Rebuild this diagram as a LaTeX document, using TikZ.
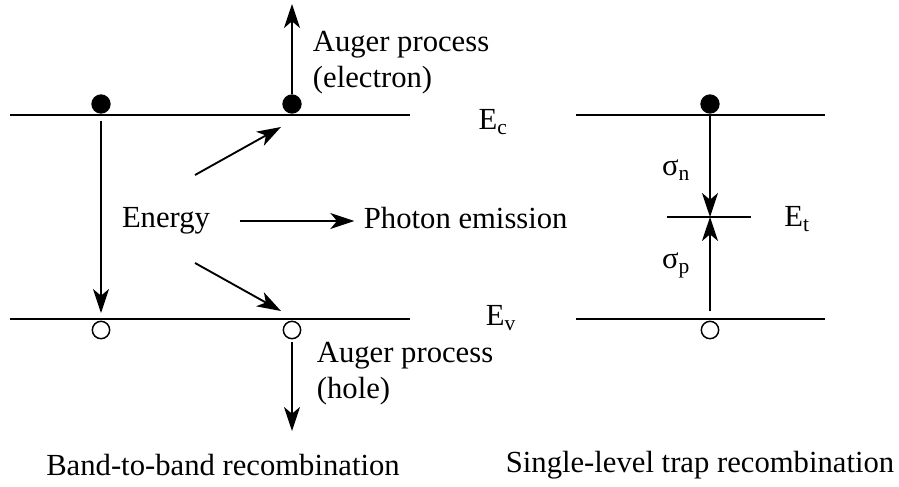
\documentclass[tikz,border=0pt]{standalone}
\usepackage{fontspec}
\setmainfont{Liberation Serif}
\usetikzlibrary{arrows.meta,positioning}

\begin{document}
\begin{tikzpicture}[
  x=0.75pt, y=-0.75pt,
  font=\fontsize{23}{27}\selectfont,
  band/.style={line width=1.4pt},
  arr/.style={-{Stealth[length=18pt, width=12pt, inset=5pt]}, line width=1.4pt},
  elec/.style={circle, fill=black, inner sep=0pt, minimum size=14.5pt},
  hole/.style={circle, draw, fill=white, line width=1.1pt, inner sep=0pt,
    minimum size=13pt},
  lbl/.style={inner sep=2pt, align=left}
]
\useasboundingbox (0,0) rectangle (899,486);

% ── Band edges ────────────────────────────────────────────────────────────
\draw[band] (10,115) -- (410,115);
\draw[band] (10,319) -- (410,319);
\draw[band] (576,115) -- (825,115);
\draw[band] (576,319) -- (825,319);
\draw[band] (667,217) -- (751,217);

\node (Ec) at (493,122) {E\textsubscript{c}};
\node (Ev) at (501,318) {E\textsubscript{v}};
\node (Et) at (797,219) {E\textsubscript{t}};

% ── Band-to-band (left) ──────────────────────────────────────────────────
\node[elec] (ec1) at (101,104) {};
\node[elec] (ec2) at (292,104) {};
\node[hole] (ev1) at (101,330) {};
\node[hole] (ev2) at (292,330) {};

\coordinate (drop) at (101,313);
\draw[arr, shorten <=5pt] (ec1) -- (drop);

\coordinate (augup) at (292,4);
\coordinate (augdn) at (292,431);
\draw[arr] (ec2) -- (augup);
\draw[arr, shorten <=2pt] (ev2) -- (augdn);
\node[lbl, anchor=west] (auge) at (310,63) {Auger process\\(electron)};
\node[lbl, anchor=west] (augh) at (314,374) {Auger process\\(hole)};

\node[lbl] (energy) at (166,221) {Energy};
\node[lbl, anchor=west] (photon) at (361,218) {Photon emission};
\draw[arr, shorten <=20pt, shorten >=5pt]
  (energy.east) -- (energy.east -| photon.west);

\coordinate (eu1) at (195,175);
\coordinate (eu2) at (281,127);
\coordinate (ed1) at (195,263);
\coordinate (ed2) at (281,311);
\draw[arr] (eu1) -- (eu2);
\draw[arr] (ed1) -- (ed2);

% ── Single-level trap (right) ────────────────────────────────────────────
\node[elec] (ect) at (710,104) {};
\node[hole] (evt) at (710,330) {};
\coordinate (trap) at (710,217);
\draw[arr] (ect) -- (trap);
\draw[arr, shorten <=7pt] (evt) -- (trap);
\node (sn) at (676,170) {σ\textsubscript{n}};
\node (sp) at (676,265) {σ\textsubscript{p}};

% ── Captions ──────────────────────────────────────────────────────────────
\node (cap1) at (223,465) {Band-to-band recombination};
\node (cap2) at (700,465) {Single-level trap recombination};

\end{tikzpicture}
\end{document}
